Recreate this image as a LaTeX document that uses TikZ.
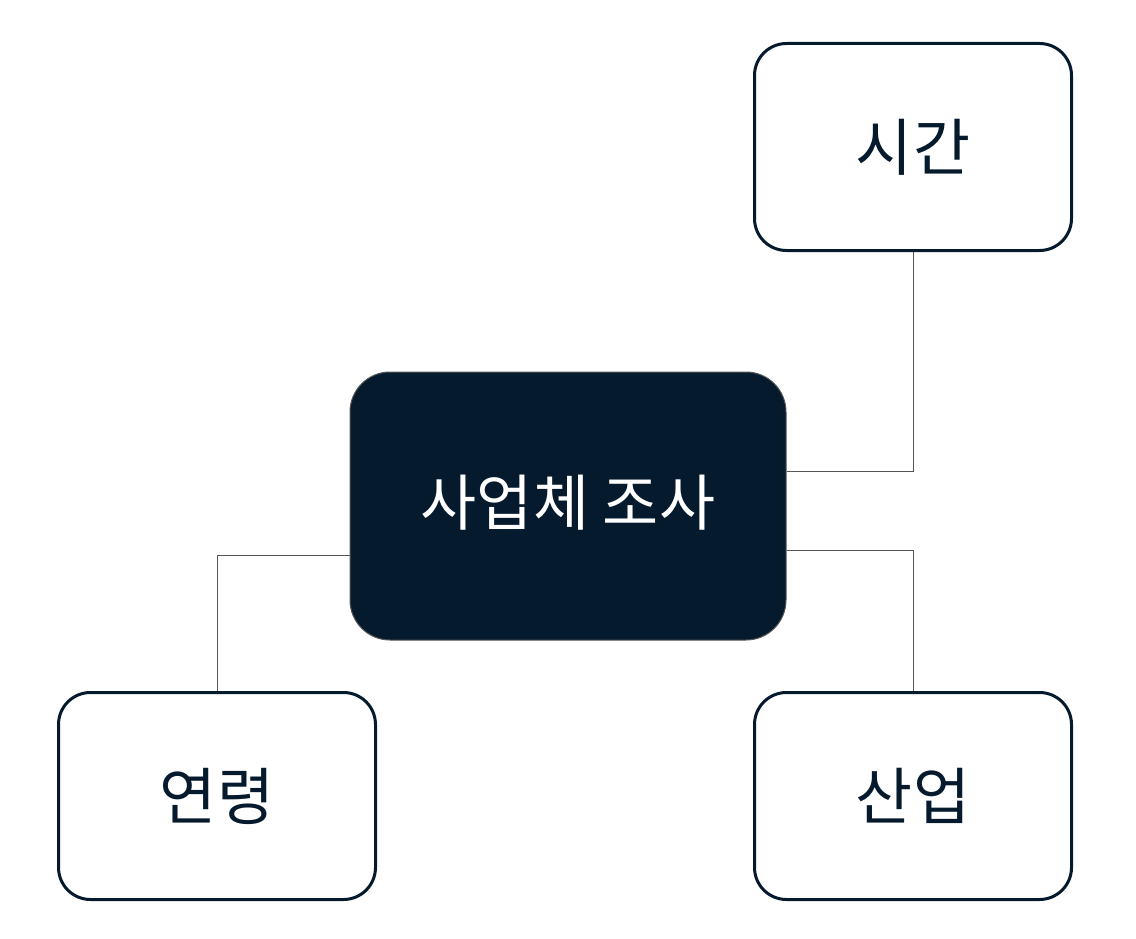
\documentclass[tikz,border=0pt]{standalone}
\usepackage{fontspec}
\setmainfont{Noto Sans CJK KR}
\usetikzlibrary{positioning}
\definecolor{navy}{HTML}{061A2E}
\definecolor{linegray}{HTML}{555555}
\tikzset{
  leaf/.style={draw=navy, line width=3pt, rounded corners=32pt, fill=white,
    minimum width=317pt, minimum height=207pt, inner sep=0pt,
    font=\fontsize{62}{70}\selectfont, text=navy},
  hub/.style={draw=linegray, line width=1pt, rounded corners=40pt, fill=navy,
    minimum width=436pt, minimum height=268pt, inner sep=0pt,
    font=\fontsize{61}{70}\selectfont, text=white},
  link/.style={draw=linegray, line width=1pt}
}
\begin{document}
\begin{tikzpicture}[x=1pt,y=-1pt]
\useasboundingbox (0,0) rectangle (1136,939);

% boxes
\node[hub]  (survey)   at (568,506) {\raisebox{12pt}{사업체 조사}};
\node[leaf] (time)     at (913,147) {시간};
\node[leaf] (age)      at (217,796) {연령};
\node[leaf] (industry) at (913,796) {산업};

% links
\draw[link] ([yshift=35pt]survey.east) -| (time.south);
\draw[link] ([yshift=-44pt]survey.east) -| (industry.north);
\draw[link] ([yshift=-49pt]survey.west) -| (age.north);
\end{tikzpicture}
\end{document}
